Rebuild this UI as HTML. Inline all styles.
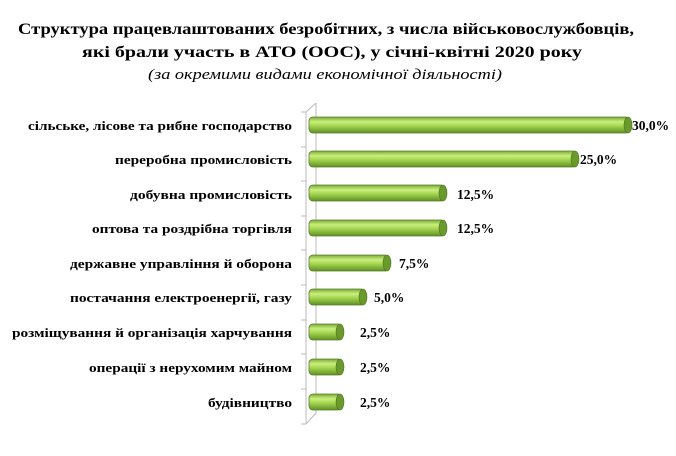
<!DOCTYPE html>
<html><head><meta charset="utf-8"><style>
body{margin:0;background:#fff;width:676px;height:451px;overflow:hidden;font-family:"Liberation Serif",serif}
</style></head><body>
<svg width="676" height="451" xmlns="http://www.w3.org/2000/svg" font-family="Liberation Serif, serif">
<defs>
<linearGradient id="g" x1="0" y1="0" x2="0" y2="1">
<stop offset="0" stop-color="#7aa838"/><stop offset="0.3" stop-color="#c9ef7e"/><stop offset="0.55" stop-color="#a5d650"/><stop offset="1" stop-color="#5f8f24"/>
</linearGradient>
</defs>
<g font-weight="bold" font-size="15.5" fill="#000">
<text x="18" y="34" textLength="616" lengthAdjust="spacingAndGlyphs">Структура працевлаштованих безробітних, з числа військовослужбовців,</text>
<text x="82" y="57" textLength="500" lengthAdjust="spacingAndGlyphs">які брали участь  в АТО (ООС), у січні-квітні 2020 року</text>
</g>
<text x="148" y="79" font-size="15" font-style="italic" textLength="354" lengthAdjust="spacingAndGlyphs">(за окремими видами економічної діяльності)</text>
<g stroke="#bbb" stroke-width="1" fill="none">
<line x1="306" y1="112" x2="306" y2="424"/>
<line x1="306" y1="112" x2="316" y2="103"/>
<line x1="306" y1="424" x2="316" y2="413"/>
<line x1="316" y1="103" x2="316" y2="413"/>
<line x1="301" y1="112" x2="306" y2="112"/><line x1="301" y1="147" x2="306" y2="147"/><line x1="301" y1="181" x2="306" y2="181"/><line x1="301" y1="216" x2="306" y2="216"/><line x1="301" y1="250" x2="306" y2="250"/><line x1="301" y1="285" x2="306" y2="285"/><line x1="301" y1="320" x2="306" y2="320"/><line x1="301" y1="354" x2="306" y2="354"/><line x1="301" y1="389" x2="306" y2="389"/><line x1="301" y1="424" x2="306" y2="424"/>
</g>
<g font-size="13" font-weight="bold">
<text x="28" y="130" textLength="264" lengthAdjust="spacingAndGlyphs">сільське, лісове та рибне господарство</text>
<text x="115" y="164" textLength="177" lengthAdjust="spacingAndGlyphs">переробна промисловість</text>
<text x="130" y="199" textLength="162" lengthAdjust="spacingAndGlyphs">добувна промисловість</text>
<text x="92" y="233" textLength="200" lengthAdjust="spacingAndGlyphs">оптова та роздрібна торгівля</text>
<text x="70" y="268" textLength="222" lengthAdjust="spacingAndGlyphs">державне управління й оборона</text>
<text x="70" y="302" textLength="222" lengthAdjust="spacingAndGlyphs">постачання електроенергії, газу</text>
<text x="12" y="337" textLength="280" lengthAdjust="spacingAndGlyphs">розміщування й організація харчування</text>
<text x="89" y="372" textLength="203" lengthAdjust="spacingAndGlyphs">операції з нерухомим майном</text>
<text x="208" y="407" textLength="84" lengthAdjust="spacingAndGlyphs">будівництво</text>
</g>
<g stroke="#5a7d2a" stroke-width="0.8">
<rect x="309" y="117" width="321" height="16" rx="4" fill="url(#g)"/>
<rect x="309" y="151" width="268" height="16" rx="4" fill="url(#g)"/>
<rect x="309" y="185" width="136" height="16" rx="4" fill="url(#g)"/>
<rect x="309" y="220" width="136" height="16" rx="4" fill="url(#g)"/>
<rect x="309" y="255" width="80" height="16" rx="4" fill="url(#g)"/>
<rect x="309" y="289" width="56" height="16" rx="4" fill="url(#g)"/>
<rect x="309" y="324" width="33" height="16" rx="4" fill="url(#g)"/>
<rect x="309" y="359" width="33" height="16" rx="4" fill="url(#g)"/>
<rect x="309" y="394" width="33" height="16" rx="4" fill="url(#g)"/>
</g>
<g fill="#6a9a2c" stroke="#4d7020" stroke-width="0.6">
<ellipse cx="628" cy="125" rx="4" ry="8"/><ellipse cx="575" cy="159" rx="4" ry="8"/><ellipse cx="443" cy="193" rx="4" ry="8"/><ellipse cx="443" cy="228" rx="4" ry="8"/><ellipse cx="387" cy="263" rx="4" ry="8"/><ellipse cx="363" cy="297" rx="4" ry="8"/><ellipse cx="340" cy="332" rx="4" ry="8"/><ellipse cx="340" cy="367" rx="4" ry="8"/><ellipse cx="340" cy="402" rx="4" ry="8"/>
</g>
<g font-size="13.5" font-weight="bold">
<text x="632" y="130">30,0%</text>
<text x="580" y="164">25,0%</text>
<text x="457" y="199">12,5%</text>
<text x="457" y="233">12,5%</text>
<text x="399" y="268">7,5%</text>
<text x="374" y="302">5,0%</text>
<text x="360" y="337">2,5%</text>
<text x="360" y="372">2,5%</text>
<text x="360" y="407">2,5%</text>
</g>
</svg>
</body></html>
